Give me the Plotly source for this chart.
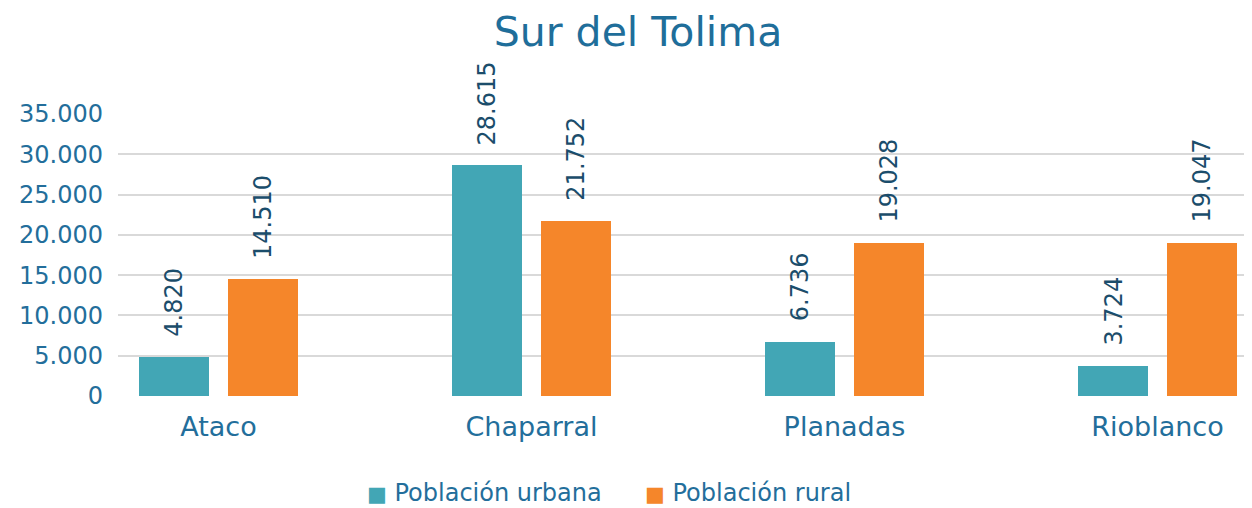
import plotly.graph_objects as go

categories = ["Ataco", "Chaparral", "Planadas", "Rioblanco"]
urbana = [4820, 28615, 6736, 3724]
rural = [14510, 21752, 19028, 19047]
series_names = ["Población urbana", "Población rural"]
tick_vals = [0, 5000, 10000, 15000, 20000, 25000, 30000, 35000]
tick_text = ["0", "5.000", "10.000", "15.000", "20.000", "25.000", "30.000", "35.000"]

TEAL = "#42A6B5"
ORANGE = "#F5862A"
AXIS_COLOR = "#236E9B"
LABEL_COLOR = "#1B4D6B"
FONT = "DejaVu Sans, sans-serif"

FW, FH = 1244, 500  # page has an 8px body margin


def fmt(v):
    return f"{v:,}".replace(",", ".")


x_idx = list(range(len(categories)))
W = 0.224
offsets = [-0.254, 0.030]
colors = [TEAL, ORANGE]

fig = go.Figure()
for vals, name, col, off in zip((urbana, rural), series_names, colors, offsets):
    fig.add_trace(go.Bar(x=x_idx, y=vals, name=name, marker_color=col,
                         width=W, offset=off, marker_line_width=0,
                         showlegend=False))

annotations = []
for vals, off in zip((urbana, rural), offsets):
    for i, v in zip(x_idx, vals):
        annotations.append(dict(
            x=i + off + W / 2, y=v, xref="x", yref="y",
            text=fmt(v), textangle=-90, showarrow=False,
            xanchor="center", yanchor="bottom", yshift=18,
            font=dict(family=FONT, size=24, color=LABEL_COLOR)))

ml, mr, mt, mb = 110, 0, 106, 112
pw, ph = FW - ml - mr, FH - mt - mb

# legend drawn as text entries (positions in figure pixels)
legend_x = [357, 635]
for name, col, lx in zip(series_names, colors, legend_x):
    annotations.append(dict(
        x=(lx - ml) / pw, y=1 - (485 - mt) / ph, xref="paper", yref="paper",
        text=f"<span style='color:{col};font-size:21px'>■</span> {name}",
        showarrow=False, xanchor="left", yanchor="middle",
        font=dict(family=FONT, size=24, color=AXIS_COLOR)))

fig.update_layout(
    width=FW, height=FH,
    margin=dict(l=ml, r=mr, t=mt, b=mb),
    paper_bgcolor="white", plot_bgcolor="white",
    barmode="overlay",
    title=dict(text="Sur del Tolima", x=630 / FW, xanchor="center",
               y=1 - 24 / FH, yanchor="middle", yref="container",
               font=dict(family=FONT, size=41, color="#1F6E9A")),
    xaxis=dict(range=[-0.321, 3.302], tickvals=x_idx, ticktext=categories,
               showgrid=False, zeroline=False, showline=False, ticks="",
               ticklabelstandoff=12,
               tickfont=dict(family=FONT, size=27, color=AXIS_COLOR)),
    yaxis=dict(range=[0, 35000], tickvals=tick_vals, ticktext=tick_text,
               showgrid=True, gridcolor="#D9D9D9", gridwidth=2,
               zeroline=False, showline=False, ticks="",
               ticklabelstandoff=14,
               tickfont=dict(family=FONT, size=24, color=AXIS_COLOR)),
    showlegend=False,
    annotations=annotations,
    bargap=0,
)
fig.write_html("out.html")
